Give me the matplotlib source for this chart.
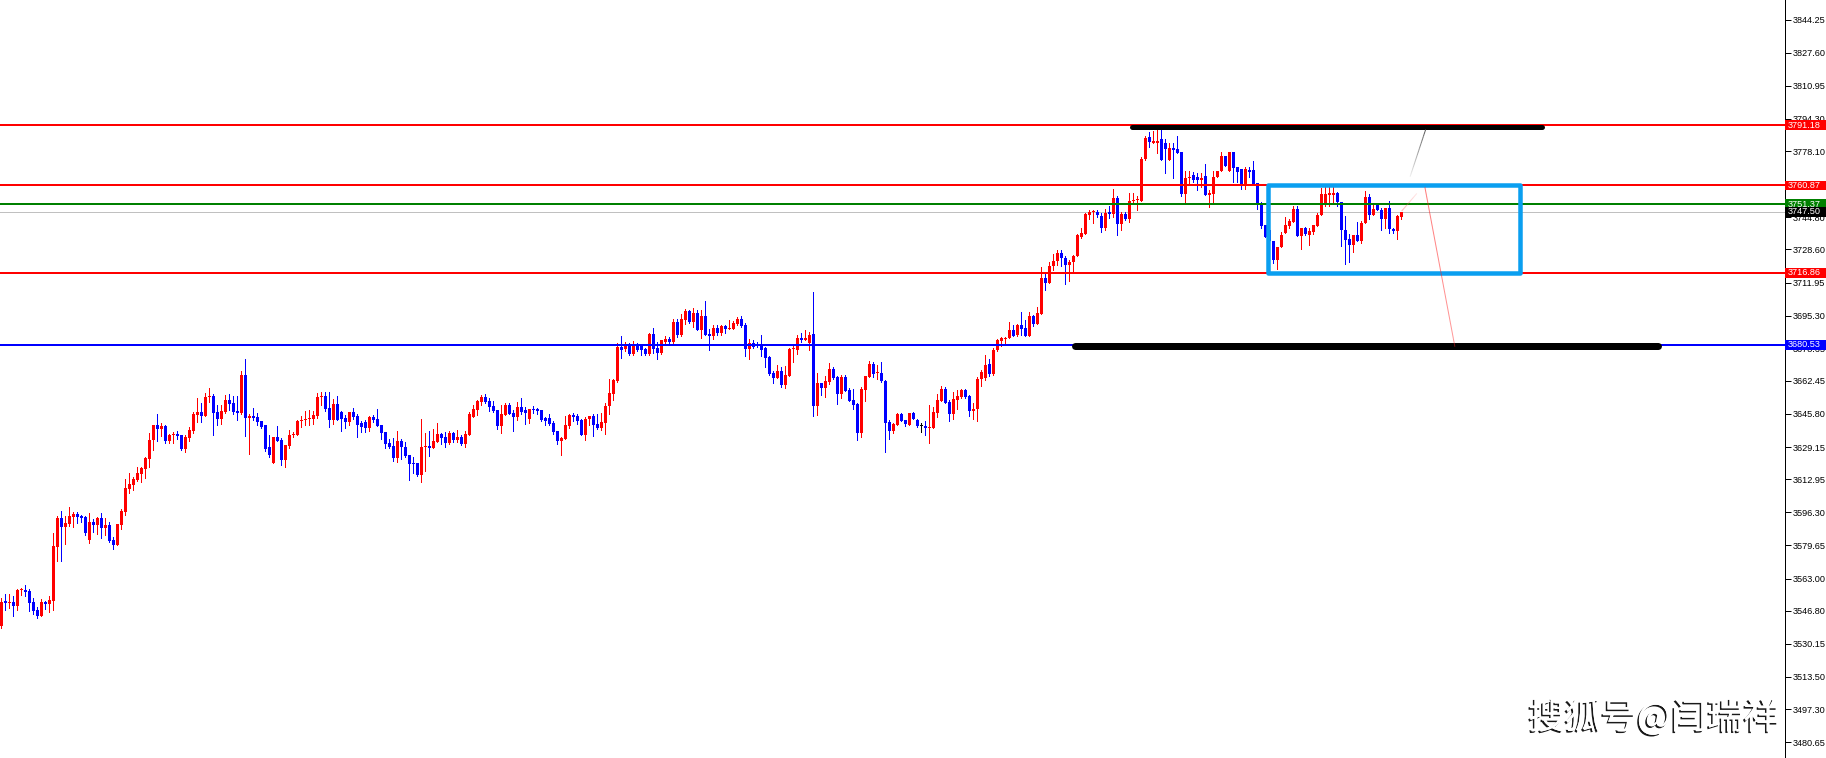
import numpy as np
import matplotlib
matplotlib.use("Agg")
import matplotlib.pyplot as plt
import matplotlib.patheffects as pe
from matplotlib.patches import Rectangle
from matplotlib.collections import LineCollection
from matplotlib.transforms import blended_transform_factory

# hourly candles (index 0 = left edge)
opens = [
    3539.3, 3551.9, 3550.9, 3551.2, 3549.2, 3557.3, 3557.3, 3556.7, 3551.2, 3547.2,
    3544.2, 3551.2, 3550.2, 3551.9, 3579.1, 3593.5, 3589.1, 3590.5, 3594.2, 3595.5,
    3594.5, 3594.0, 3582.4, 3591.5, 3590.0, 3593.5, 3588.4, 3590.0, 3582.4, 3579.9,
    3590.0, 3596.5, 3608.2, 3610.0, 3612.6, 3615.6, 3618.1, 3623.1, 3632.7, 3640.2,
    3638.2, 3639.7, 3632.2, 3635.2, 3635.7, 3635.2, 3628.2, 3633.7, 3637.2, 3645.3,
    3646.8, 3644.8, 3654.3, 3654.8, 3646.8, 3643.3, 3646.8, 3652.8, 3651.3, 3647.3,
    3646.3, 3665.4, 3643.8, 3644.8, 3644.3, 3642.3, 3640.2, 3629.2, 3621.1, 3634.2,
    3632.7, 3622.6, 3629.7, 3635.2, 3635.2, 3642.3, 3642.8, 3643.3, 3643.3, 3644.8,
    3654.3, 3654.8, 3648.8, 3642.8, 3650.8, 3646.8, 3643.8, 3641.8, 3646.8, 3644.8,
    3641.3, 3641.8, 3638.7, 3644.3, 3643.3, 3640.2, 3636.7, 3631.2, 3629.7, 3623.6,
    3632.2, 3629.2, 3625.1, 3621.1, 3621.1, 3615.1, 3629.2, 3629.7, 3628.7, 3631.7,
    3635.7, 3634.2, 3631.2, 3636.2, 3632.7, 3634.2, 3630.7, 3635.2, 3644.3, 3647.8,
    3651.8, 3654.3, 3652.3, 3649.8, 3647.8, 3639.7, 3645.3, 3650.3, 3646.3, 3644.3,
    3649.3, 3647.8, 3643.3, 3648.3, 3648.3, 3647.8, 3643.8, 3643.8, 3641.3, 3637.2,
    3632.2, 3633.2, 3639.7, 3645.3, 3644.8, 3642.8, 3635.2, 3643.3, 3644.8, 3640.7,
    3638.7, 3641.3, 3649.8, 3655.8, 3662.4, 3679.5, 3678.5, 3681.0, 3676.0, 3680.5,
    3680.0, 3678.5, 3676.0, 3686.0, 3679.0, 3676.5, 3682.0, 3683.5, 3682.0, 3692.1,
    3685.5, 3693.1, 3697.6, 3692.1, 3696.6, 3688.1, 3695.1, 3686.0, 3685.0, 3689.1,
    3686.5, 3690.1, 3688.6, 3688.6, 3691.1, 3693.6, 3690.6, 3678.5, 3681.5, 3681.0,
    3680.0, 3679.0, 3674.5, 3666.4, 3663.9, 3667.4, 3660.4, 3664.9, 3678.5, 3678.0,
    3684.0, 3683.0, 3681.5, 3686.0, 3649.8, 3661.4, 3658.9, 3661.9, 3668.4, 3664.4,
    3655.8, 3664.4, 3657.9, 3652.8, 3650.8, 3636.2, 3657.9, 3664.4, 3670.9, 3666.4,
    3666.4, 3662.4, 3641.8, 3637.2, 3640.2, 3645.8, 3642.8, 3640.2, 3646.3, 3642.8,
    3639.7, 3639.7, 3638.7, 3638.7, 3646.3, 3652.3, 3658.4, 3651.8, 3645.8, 3652.8,
    3654.3, 3657.9, 3654.8, 3647.3, 3648.3, 3663.4, 3664.0, 3670.8, 3666.0, 3678.0,
    3682.7, 3683.5, 3684.0, 3688.0, 3685.5, 3690.6, 3689.1, 3685.0, 3695.1, 3691.1,
    3696.1, 3714.0, 3711.9, 3720.3, 3722.8, 3726.8, 3724.3, 3720.8, 3722.3, 3725.3,
    3734.9, 3736.4, 3745.9, 3747.4, 3747.4, 3745.4, 3739.4, 3747.4, 3746.4, 3754.5,
    3741.4, 3746.4, 3743.9, 3752.9, 3753.3, 3753.0, 3774.1, 3785.2, 3782.2, 3782.2,
    3784.2, 3782.1, 3773.6, 3779.6, 3779.1, 3777.6, 3756.5, 3764.5, 3766.0, 3765.0,
    3763.5, 3765.5, 3756.0, 3756.5, 3765.0, 3768.1, 3775.6, 3768.1, 3777.6, 3770.1,
    3769.1, 3761.5, 3768.6, 3768.6, 3762.0, 3752.0, 3740.9, 3738.4, 3732.8, 3723.3,
    3729.8, 3736.9, 3740.4, 3742.4, 3748.9, 3735.4, 3739.4, 3735.9, 3737.4, 3740.4,
    3745.9, 3752.0, 3756.0, 3756.0, 3757.0, 3752.5, 3738.4, 3733.8, 3730.8, 3735.9,
    3732.8, 3741.9, 3755.0, 3745.9, 3751.4, 3748.4, 3743.9, 3749.4, 3738.9, 3737.9,
    3744.9,
]
highs = [
    3553.1, 3555.2, 3555.2, 3554.2, 3557.9, 3558.3, 3559.8, 3557.6, 3553.2, 3548.7,
    3552.7, 3551.7, 3554.2, 3586.1, 3594.5, 3597.0, 3594.5, 3599.0, 3596.5, 3596.5,
    3595.2, 3594.5, 3596.0, 3593.0, 3594.0, 3596.0, 3593.5, 3591.5, 3583.9, 3590.5,
    3598.0, 3613.0, 3616.1, 3614.1, 3619.1, 3619.1, 3624.1, 3636.2, 3640.2, 3645.8,
    3641.3, 3640.2, 3635.7, 3636.7, 3637.2, 3635.2, 3635.2, 3639.2, 3646.8, 3653.8,
    3651.3, 3656.3, 3658.9, 3655.8, 3650.3, 3650.3, 3655.3, 3655.8, 3654.8, 3654.8,
    3667.4, 3673.5, 3645.8, 3648.8, 3646.3, 3642.3, 3640.2, 3635.2, 3634.2, 3639.7,
    3633.7, 3630.2, 3637.7, 3636.7, 3642.8, 3644.8, 3647.3, 3647.8, 3647.3, 3656.3,
    3656.8, 3656.8, 3656.8, 3653.3, 3654.8, 3647.3, 3645.3, 3646.8, 3648.8, 3645.8,
    3642.3, 3642.8, 3644.8, 3645.3, 3648.3, 3640.2, 3636.7, 3633.2, 3633.7, 3637.2,
    3633.2, 3631.7, 3625.1, 3624.1, 3621.1, 3643.3, 3636.2, 3637.2, 3638.2, 3641.3,
    3636.2, 3636.7, 3637.2, 3636.7, 3637.7, 3635.2, 3637.2, 3646.8, 3650.3, 3652.8,
    3655.3, 3655.8, 3653.8, 3652.3, 3647.8, 3650.3, 3651.3, 3651.3, 3647.8, 3651.8,
    3653.8, 3649.3, 3648.3, 3649.8, 3648.8, 3647.8, 3644.3, 3645.8, 3642.3, 3637.2,
    3634.2, 3644.8, 3645.8, 3646.3, 3645.8, 3643.3, 3644.3, 3644.8, 3645.8, 3645.8,
    3646.3, 3651.3, 3663.4, 3663.4, 3681.5, 3685.0, 3682.0, 3681.5, 3682.5, 3681.5,
    3680.5, 3679.0, 3686.5, 3689.1, 3682.0, 3683.0, 3685.0, 3684.5, 3693.6, 3693.6,
    3696.1, 3698.6, 3698.1, 3699.1, 3698.1, 3698.1, 3702.6, 3688.6, 3690.6, 3690.6,
    3690.6, 3690.6, 3693.1, 3692.6, 3694.6, 3695.1, 3691.6, 3683.5, 3683.0, 3682.0,
    3685.5, 3679.5, 3675.0, 3667.4, 3670.4, 3669.4, 3669.9, 3679.0, 3680.5, 3685.5,
    3686.5, 3688.0, 3687.0, 3707.2, 3666.4, 3661.4, 3664.9, 3671.4, 3669.4, 3664.9,
    3665.4, 3665.4, 3658.9, 3658.4, 3651.3, 3659.4, 3664.9, 3672.4, 3671.9, 3670.4,
    3671.9, 3662.9, 3642.8, 3641.3, 3646.3, 3646.3, 3642.8, 3646.3, 3646.8, 3643.3,
    3641.3, 3642.3, 3650.3, 3649.3, 3655.8, 3659.9, 3659.4, 3652.8, 3656.8, 3657.9,
    3658.4, 3658.4, 3655.3, 3651.3, 3664.4, 3668.0, 3675.5, 3673.3, 3679.0, 3683.5,
    3684.5, 3684.5, 3692.1, 3690.6, 3691.1, 3697.1, 3693.1, 3697.1, 3695.6, 3699.6,
    3719.9, 3716.6, 3722.4, 3726.3, 3728.3, 3728.3, 3725.3, 3723.3, 3725.8, 3736.4,
    3739.4, 3746.9, 3748.4, 3748.4, 3748.4, 3746.9, 3748.9, 3750.4, 3759.0, 3755.5,
    3747.4, 3747.4, 3757.0, 3757.0, 3755.5, 3775.1, 3785.7, 3787.7, 3788.2, 3788.7,
    3788.7, 3784.2, 3782.1, 3782.1, 3785.7, 3777.6, 3768.0, 3768.0, 3767.5, 3767.0,
    3767.0, 3771.6, 3758.5, 3768.1, 3768.1, 3777.6, 3775.6, 3777.6, 3777.6, 3770.1,
    3769.1, 3770.1, 3770.1, 3773.1, 3762.0, 3752.5, 3740.9, 3738.4, 3732.8, 3729.8,
    3737.4, 3744.9, 3743.9, 3750.4, 3750.4, 3739.4, 3739.9, 3739.4, 3740.9, 3746.9,
    3759.5, 3760.0, 3760.0, 3760.0, 3757.5, 3752.5, 3745.4, 3736.4, 3735.9, 3742.4,
    3742.9, 3758.0, 3756.5, 3751.9, 3751.9, 3749.4, 3749.4, 3752.9, 3739.4, 3745.9,
    3747.4,
]
lows = [
    3538.0, 3547.2, 3548.4, 3544.2, 3547.2, 3554.7, 3554.2, 3546.7, 3545.2, 3543.3,
    3544.2, 3547.7, 3546.2, 3547.2, 3572.0, 3572.0, 3580.4, 3589.5, 3589.0, 3591.0,
    3591.5, 3584.9, 3580.9, 3586.4, 3585.4, 3583.4, 3584.9, 3581.4, 3577.9, 3579.9,
    3588.0, 3595.0, 3606.2, 3607.5, 3612.1, 3611.6, 3613.6, 3619.1, 3627.7, 3632.2,
    3634.7, 3631.2, 3631.2, 3631.2, 3633.2, 3627.7, 3626.6, 3632.2, 3636.2, 3641.8,
    3641.8, 3644.8, 3651.8, 3635.2, 3640.2, 3640.7, 3646.3, 3647.8, 3645.8, 3642.8,
    3645.8, 3634.7, 3625.7, 3642.8, 3640.2, 3638.7, 3627.2, 3624.1, 3621.1, 3632.2,
    3620.1, 3619.1, 3628.7, 3634.2, 3635.2, 3639.2, 3640.2, 3640.2, 3640.7, 3643.8,
    3650.3, 3647.3, 3639.2, 3640.7, 3642.8, 3637.2, 3638.7, 3640.2, 3643.3, 3634.2,
    3636.7, 3636.7, 3637.2, 3641.8, 3639.7, 3633.2, 3628.7, 3628.7, 3622.1, 3621.6,
    3623.1, 3624.1, 3612.6, 3616.1, 3614.6, 3611.6, 3617.1, 3624.6, 3628.7, 3631.7,
    3630.7, 3629.2, 3630.7, 3631.7, 3631.7, 3630.2, 3629.2, 3635.2, 3644.3, 3645.3,
    3650.3, 3651.3, 3647.3, 3646.8, 3638.2, 3636.2, 3645.3, 3645.8, 3637.2, 3642.8,
    3645.8, 3640.7, 3641.3, 3646.3, 3645.8, 3642.3, 3640.2, 3640.2, 3635.7, 3630.7,
    3625.2, 3633.2, 3638.7, 3642.3, 3640.7, 3635.2, 3632.7, 3640.2, 3634.7, 3638.2,
    3637.7, 3635.7, 3645.8, 3652.8, 3661.9, 3674.0, 3677.5, 3675.5, 3675.5, 3677.5,
    3675.5, 3675.5, 3675.5, 3676.5, 3673.5, 3676.0, 3680.5, 3681.5, 3680.5, 3684.5,
    3685.0, 3691.1, 3691.6, 3689.6, 3688.1, 3684.0, 3685.5, 3678.0, 3683.5, 3685.5,
    3685.5, 3686.5, 3688.6, 3688.6, 3690.6, 3689.6, 3675.0, 3673.5, 3679.0, 3679.5,
    3675.0, 3669.4, 3665.4, 3661.4, 3663.9, 3659.4, 3658.9, 3664.9, 3672.0, 3676.0,
    3682.0, 3683.0, 3678.0, 3644.8, 3645.3, 3655.3, 3654.3, 3660.9, 3663.4, 3650.8,
    3653.8, 3657.4, 3652.3, 3648.3, 3632.7, 3634.2, 3652.3, 3664.4, 3664.4, 3663.4,
    3661.9, 3626.7, 3633.2, 3636.2, 3640.2, 3642.3, 3639.7, 3640.2, 3643.3, 3639.2,
    3636.7, 3635.2, 3631.2, 3638.7, 3644.3, 3652.3, 3651.3, 3642.3, 3643.3, 3648.3,
    3653.8, 3653.8, 3644.8, 3643.3, 3642.3, 3660.0, 3663.0, 3665.0, 3665.5, 3677.5,
    3680.0, 3680.5, 3684.0, 3685.0, 3685.0, 3685.5, 3685.0, 3685.0, 3690.1, 3691.1,
    3696.1, 3708.2, 3711.9, 3718.2, 3720.8, 3720.3, 3711.2, 3712.9, 3717.2, 3725.3,
    3734.4, 3736.4, 3743.9, 3741.9, 3744.9, 3737.4, 3738.4, 3744.4, 3744.9, 3735.9,
    3738.4, 3743.4, 3742.4, 3752.5, 3748.4, 3753.0, 3773.6, 3780.1, 3782.1, 3777.1,
    3773.6, 3767.0, 3773.6, 3764.5, 3777.1, 3755.5, 3752.0, 3761.0, 3762.5, 3758.5,
    3760.0, 3756.0, 3749.9, 3752.0, 3765.0, 3768.1, 3770.6, 3768.1, 3762.5, 3762.5,
    3759.0, 3759.0, 3765.0, 3761.5, 3749.0, 3739.4, 3734.8, 3732.3, 3721.8, 3718.7,
    3729.8, 3736.9, 3739.4, 3742.4, 3735.4, 3728.8, 3735.9, 3730.8, 3736.4, 3740.4,
    3745.9, 3750.4, 3750.4, 3751.4, 3750.4, 3730.3, 3721.3, 3722.3, 3727.3, 3732.8,
    3731.8, 3741.9, 3743.9, 3745.9, 3748.4, 3738.4, 3739.4, 3736.9, 3736.9, 3733.8,
    3743.9,
]
closes = [
    3551.4, 3550.7, 3551.3, 3549.2, 3557.3, 3557.6, 3556.2, 3550.7, 3546.7, 3544.2,
    3551.2, 3550.2, 3552.2, 3579.4, 3593.5, 3589.1, 3591.0, 3594.5, 3595.5, 3594.0,
    3593.5, 3585.9, 3591.5, 3590.0, 3593.5, 3588.4, 3590.0, 3581.9, 3579.9, 3590.5,
    3597.0, 3608.6, 3610.6, 3613.1, 3616.1, 3618.6, 3623.6, 3632.7, 3640.2, 3638.2,
    3639.7, 3632.2, 3635.2, 3635.7, 3634.7, 3628.2, 3634.2, 3637.7, 3645.8, 3646.8,
    3644.8, 3654.3, 3654.8, 3646.3, 3643.3, 3647.3, 3652.8, 3650.8, 3646.8, 3646.3,
    3665.4, 3643.8, 3644.8, 3643.8, 3641.8, 3639.2, 3628.2, 3625.2, 3634.2, 3632.2,
    3622.6, 3630.2, 3635.2, 3635.7, 3642.3, 3642.8, 3643.3, 3643.8, 3645.3, 3654.3,
    3654.8, 3648.3, 3642.8, 3650.8, 3642.8, 3643.3, 3641.8, 3646.8, 3644.3, 3640.2,
    3639.2, 3638.7, 3644.3, 3642.8, 3639.7, 3636.2, 3630.7, 3629.2, 3623.6, 3632.2,
    3629.2, 3624.6, 3620.6, 3620.6, 3615.1, 3629.2, 3629.7, 3628.7, 3632.2, 3635.7,
    3633.7, 3631.2, 3636.2, 3632.7, 3634.2, 3630.7, 3635.7, 3645.8, 3648.3, 3652.3,
    3654.3, 3651.8, 3649.3, 3647.3, 3639.7, 3645.8, 3650.3, 3645.8, 3644.3, 3649.3,
    3646.8, 3646.3, 3648.3, 3647.8, 3647.3, 3642.8, 3642.3, 3640.7, 3636.7, 3632.2,
    3633.7, 3640.2, 3645.3, 3644.3, 3642.3, 3635.2, 3643.3, 3644.8, 3640.2, 3638.7,
    3641.8, 3649.8, 3656.3, 3662.9, 3679.5, 3678.0, 3681.0, 3676.0, 3680.5, 3678.0,
    3678.0, 3676.0, 3686.0, 3678.5, 3676.5, 3683.0, 3683.5, 3682.0, 3692.1, 3685.5,
    3693.6, 3697.6, 3692.1, 3696.6, 3688.1, 3695.1, 3685.5, 3685.0, 3689.1, 3686.5,
    3690.1, 3688.6, 3689.1, 3691.6, 3693.6, 3690.1, 3678.5, 3681.5, 3679.5, 3680.0,
    3678.0, 3674.0, 3665.9, 3663.9, 3667.4, 3660.4, 3665.4, 3678.5, 3679.0, 3684.0,
    3683.0, 3684.0, 3685.5, 3649.8, 3661.4, 3658.9, 3662.4, 3668.4, 3663.9, 3655.8,
    3664.4, 3657.4, 3652.3, 3650.3, 3636.2, 3658.4, 3664.9, 3670.9, 3665.9, 3666.9,
    3662.4, 3641.3, 3637.2, 3640.7, 3645.8, 3642.3, 3640.7, 3646.3, 3643.3, 3639.7,
    3639.7, 3638.7, 3639.2, 3646.8, 3652.8, 3658.4, 3651.3, 3645.8, 3653.3, 3654.8,
    3657.9, 3654.3, 3647.3, 3648.3, 3663.4, 3667.0, 3670.4, 3666.0, 3678.0, 3683.0,
    3684.0, 3684.0, 3688.0, 3685.0, 3690.6, 3688.6, 3685.0, 3695.1, 3691.1, 3696.6,
    3714.1, 3711.9, 3720.3, 3722.8, 3726.8, 3724.1, 3720.8, 3722.3, 3725.3, 3735.8,
    3736.9, 3746.4, 3747.4, 3747.9, 3745.9, 3739.4, 3746.9, 3746.4, 3754.5, 3741.4,
    3746.4, 3743.9, 3753.0, 3753.5, 3753.8, 3774.1, 3784.7, 3782.6, 3783.2, 3783.2,
    3773.6, 3779.1, 3779.6, 3778.6, 3777.1, 3756.5, 3764.5, 3765.0, 3763.5, 3763.5,
    3764.5, 3756.0, 3757.0, 3765.0, 3768.1, 3775.6, 3770.6, 3777.6, 3769.6, 3767.6,
    3761.5, 3769.1, 3767.6, 3761.5, 3751.0, 3740.4, 3734.8, 3732.8, 3723.3, 3729.8,
    3735.9, 3740.9, 3742.9, 3748.9, 3735.4, 3739.4, 3736.4, 3737.9, 3740.9, 3745.9,
    3756.5, 3756.5, 3757.0, 3757.0, 3752.5, 3738.4, 3733.3, 3730.8, 3735.9, 3732.8,
    3741.9, 3755.0, 3745.9, 3748.9, 3748.4, 3743.9, 3749.4, 3738.9, 3737.9, 3745.4,
    3747.4,
]
assert len(opens) == len(highs) == len(lows) == len(closes)

# price axis ticks
tick_prices = [3844.25, 3827.60, 3810.95, 3794.30, 3778.10, 3761.45, 3744.80, 3728.60,
               3711.95, 3695.30, 3678.65, 3662.45, 3645.80, 3629.15, 3612.95, 3596.30,
               3579.65, 3563.00, 3546.80, 3530.15, 3513.50, 3497.30, 3480.65]

# horizontal levels
level_prices = [3791.18, 3760.87, 3751.37, 3716.86, 3680.53]
level_colors = ["#ff0000", "#ff0000", "#008000", "#ff0000", "#0000ff"]
bid_price = 3747.50

# hand drawn objects (bar index, price)
black_x0 = [282.7, 268.4]
black_x1 = [385.2, 414.2]
black_y = [3790.2, 3680.0]
box_x = [316.7, 379.6]
box_y = [3716.86, 3760.87]
grey_path_x = [356.1, 352.2]
grey_path_y = [3789.0, 3765.2]
pink_path_x = [353.9, 350.1]
pink_path_y = [3756.8, 3747.9]
red_path_x = [355.9, 363.4]
red_path_y = [3759.9, 3679.6]

W, H = 1826, 758
AX_W = 1785
px = 72 / 100  # one pixel in points

fig = plt.figure(figsize=(W / 100, H / 100), dpi=100)
ax = fig.add_axes([0, 0, AX_W / W, 1])
ax.set_xlim(-0.325, (AX_W - 1.3) / 4)
ax.set_ylim(3472.7, 3854.1)

o = np.array(opens)
c = np.array(closes)
idx = np.arange(len(c))
cols = np.where(c > o, "#ff0000", np.where(c < o, "#0000ff", "#000000"))

ax.axhline(bid_price, color="#c0c0c0", lw=1 * px, zorder=1)

ax.vlines(idx, lows, highs, colors=cols, lw=1 * px, zorder=2, antialiased=False)
ax.bar(idx, np.maximum(np.abs(c - o), 0.5), bottom=np.minimum(o, c), width=0.75,
       color=cols, linewidth=0, zorder=3, antialiased=False)

for p, col in zip(level_prices, level_colors):
    ax.axhline(p, color=col, lw=2 * px, zorder=5)

# thick black zones
for x0, x1, y, lw in zip(black_x0, black_x1, black_y, [5 * px, 7 * px]):
    ax.plot([x0, x1], [y, y], color="black", lw=lw, solid_capstyle="round", zorder=6)

# range box
ax.add_patch(Rectangle((box_x[0], box_y[0]), box_x[1] - box_x[0], box_y[1] - box_y[0],
                       fill=False, edgecolor="#0a9ff0", lw=4.5 * px, joinstyle="round",
                       zorder=7))


def fading(xs, ys, color, a0, a1, n=20):
    tx = np.linspace(xs[0], xs[1], n + 1)
    ty = np.linspace(ys[0], ys[1], n + 1)
    segs = [[(tx[k], ty[k]), (tx[k + 1], ty[k + 1])] for k in range(n)]
    lc = LineCollection(segs, colors=color, lw=1 * px, zorder=8)
    lc.set_alpha(list(np.linspace(a0, a1, n)))
    ax.add_collection(lc)


fading(grey_path_x, grey_path_y, "#444444", 0.9, 0.1)
fading(pink_path_x, pink_path_y, "#ff6060", 0.15, 0.5)
fading(red_path_x, red_path_y, "#ff2020", 0.6, 0.45)

# right price scale
for s in ["top", "left", "bottom"]:
    ax.spines[s].set_visible(False)
ax.spines["right"].set_linewidth(1 * px)
ax.set_xticks([])
ax.yaxis.tick_right()
ax.set_yticks(tick_prices)
ax.set_yticklabels(["%.2f" % t for t in tick_prices])
ax.tick_params(axis="y", direction="out", length=4, width=1 * px, pad=1.5,
               labelsize=6.6, labelfontfamily="Liberation Sans")

trans = blended_transform_factory(fig.transFigure, ax.transData)
for p, col in zip(level_prices + [bid_price], level_colors + ["#000000"]):
    ax.add_patch(Rectangle((AX_W / W, p - 2.4), 1 - AX_W / W, 4.8, transform=trans,
                           facecolor=col, edgecolor="none", clip_on=False, zorder=10))
    ax.text((AX_W + 3) / W, p, "%.2f" % p, transform=trans, color="white",
            fontsize=6.6, family="Liberation Sans", va="center", ha="left",
            clip_on=False, zorder=11)

fig.text(0.9058, 0.053, "搜狐号@闫瑞祥", color="white", fontsize=26,
         family=["Noto Sans CJK SC", "DejaVu Sans"], ha="center", va="center",
         path_effects=[pe.withSimplePatchShadow(offset=(-1.2, -1.2), shadow_rgbFace="black",
                                                alpha=0.9), pe.Normal()])

fig.savefig("out.png", dpi=100)
